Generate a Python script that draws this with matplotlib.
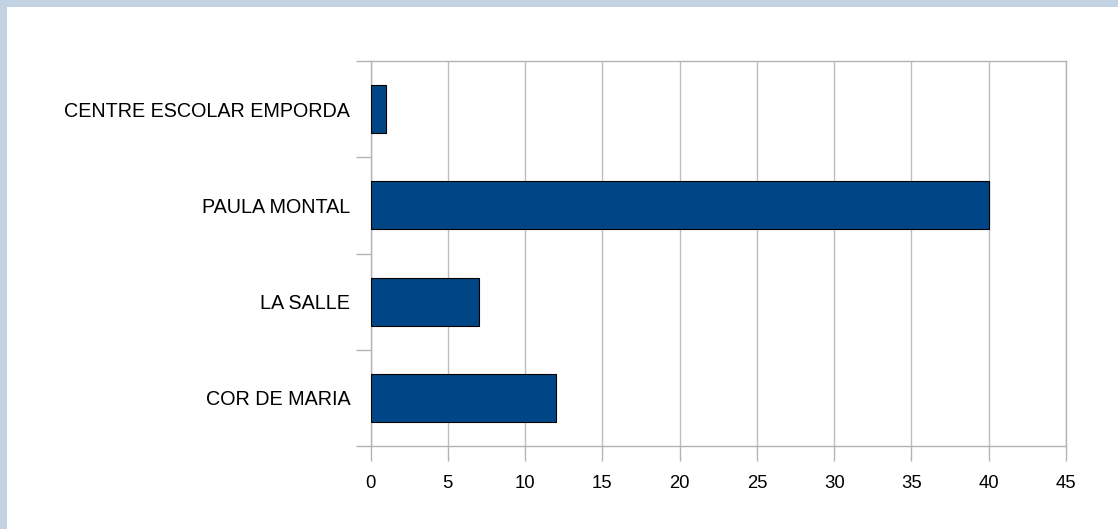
import matplotlib
matplotlib.use("Agg")
import matplotlib.pyplot as plt
from matplotlib.patches import Rectangle
import numpy as np

schools = ["COR DE MARIA", "LA SALLE", "PAULA MONTAL", "CENTRE ESCOLAR EMPORDA"]
counts = [12, 7, 40, 1]
x_ticks = [0, 5, 10, 15, 20, 25, 30, 35, 40, 45]

plt.rcParams['font.family'] = ['Liberation Sans', 'DejaVu Sans']

fig = plt.figure(figsize=(11.18, 5.29), dpi=100)
fig.patch.set_facecolor('#c3d2e2')

# white panel over the light blue frame
W, H = 1118, 529
fig.patches.append(Rectangle((7 / W, 0), 1, 1 - 7 / H, transform=fig.transFigure,
                             facecolor='white', edgecolor='none', zorder=-10))

ax = fig.add_axes([370.5 / W, 1 - 446 / H, (1066 - 370.5) / W, (446 - 61) / H])
ax.set_facecolor('white')

y = np.arange(len(schools))
ax.barh(y, counts, height=0.5, color='#004586', edgecolor='black', linewidth=0.8, zorder=3)

ax.set_xlim(0, 45)
ax.set_ylim(-0.5, len(schools) - 0.5)
ax.set_xticks(x_ticks)
ax.xaxis.grid(True, color='#bdbdbd', linewidth=1, zorder=0)

# category ticks sit between the bars
ax.set_yticks(np.arange(-0.5, len(schools), 1))
ax.set_yticklabels([])
ax.set_yticks(y, minor=True)
ax.set_yticklabels(schools, minor=True)
ax.tick_params(axis='y', which='major', length=11, color='#b3b3b3', width=1)
ax.tick_params(axis='y', which='minor', length=0, pad=14.5, labelsize=14.2)
ax.tick_params(axis='x', length=11, color='#b3b3b3', width=1, pad=10, labelsize=13.3)

for s in ax.spines.values():
    s.set_color('#b3b3b3')
    s.set_linewidth(1)

fig.savefig("out.png", dpi=100, facecolor=fig.get_facecolor())
